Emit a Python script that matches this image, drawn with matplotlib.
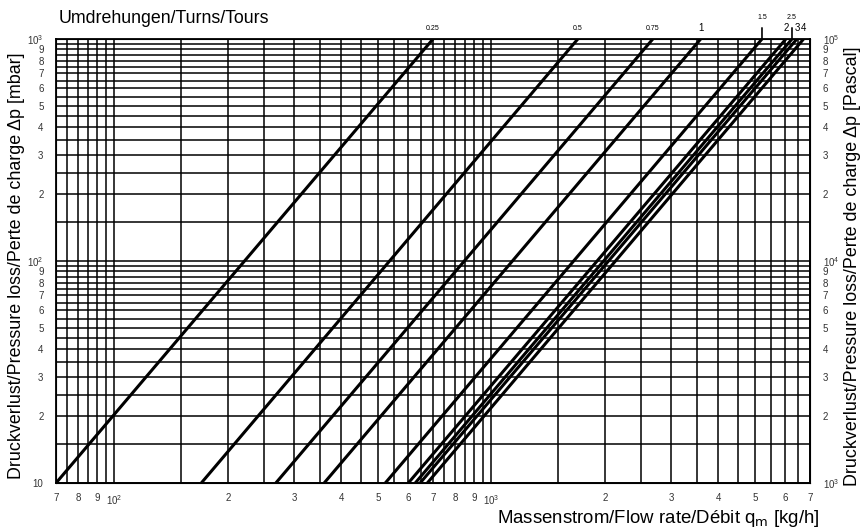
import numpy as np
import matplotlib
matplotlib.use("Agg")
import matplotlib.pyplot as plt
from matplotlib.ticker import FixedLocator, FuncFormatter

plt.rcParams['font.family'] = ['Liberation Sans', 'DejaVu Sans']
plt.rcParams['mathtext.default'] = 'regular'

# Umdrehungen (turns) and flow rate where each line crosses 10 mbar and 1000 mbar
turns = ["0.25", "0.5", "0.75", "1", "1.5", "2", "2.5", "3", "4"]
q_at_10mbar = [70, 170, 268, 360, 523, 602, 628, 647, 676]
q_at_1000mbar = [700, 1695, 2680, 3590, 5220, 6040, 6270, 6460, 6730]
dp_ends = [10, 1000]

# label style per turn value: small/large, with leader line or not
small_labels = ["0.25", "0.5", "0.75", "1.5", "2.5"]
leader_labels = ["1.5", "2.5"]

x_labelled = [70, 80, 90, 100, 200, 300, 400, 500, 600, 700, 800, 900,
              1000, 2000, 3000, 4000, 5000, 6000, 7000]
y_labelled = [10, 20, 30, 40, 50, 60, 70, 80, 90, 100, 200, 300, 400, 500,
              600, 700, 800, 900, 1000]

x_grid = list(np.arange(70, 100, 5)) + list(np.arange(100, 1000, 50)) + list(np.arange(1000, 7001, 500))
y_grid = list(np.arange(10, 100, 5)) + list(np.arange(100, 1001, 50))

fig = plt.figure(figsize=(8.62, 5.32), dpi=100)
ax = fig.add_axes([0.065, 0.0921, 0.8747, 0.8346])

for q0, q1 in zip(q_at_10mbar, q_at_1000mbar):
    ax.plot([q0, q1], dp_ends, color='black', lw=2.2, solid_capstyle='butt', zorder=3)

ax.set_xscale('log')
ax.set_yscale('log')
ax.set_xlim(70, 7000)
ax.set_ylim(10, 1000)


def fmt(v, pos):
    e = int(round(np.log10(v)))
    if abs(v - 10 ** e) < 1e-6 and e >= 2:
        return r'$10^{%d}$' % e
    if abs(v - 10) < 1e-6:
        return '10'
    return str(int(round(v / 10 ** np.floor(np.log10(v)))))


ax.xaxis.set_major_locator(FixedLocator(x_labelled))
ax.xaxis.set_minor_locator(FixedLocator(x_grid))
ax.yaxis.set_major_locator(FixedLocator(y_labelled))
ax.yaxis.set_minor_locator(FixedLocator(y_grid))
ax.xaxis.set_major_formatter(FuncFormatter(fmt))
ax.yaxis.set_major_formatter(FuncFormatter(fmt))
ax.xaxis.set_minor_formatter(FuncFormatter(lambda v, p: ''))
ax.yaxis.set_minor_formatter(FuncFormatter(lambda v, p: ''))
ax.tick_params(which='both', length=0, labelsize=7, colors='#333333')
ax.tick_params(axis='x', pad=7)
ax.tick_params(axis='y', pad=9)
ax.grid(which='both', color='black', lw=1.1)
for s in ax.spines.values():
    s.set_color('black')
    s.set_linewidth(1.3)

# right axis in Pascal
ax2 = ax.twinx()
ax2.set_yscale('log')
ax2.set_ylim(1000, 100000)
ax2.yaxis.set_major_locator(FixedLocator([v * 100 for v in y_labelled]))
ax2.yaxis.set_minor_locator(FixedLocator([]))
ax2.yaxis.set_major_formatter(FuncFormatter(fmt))
ax2.tick_params(which='both', length=0, labelsize=7, colors='#333333', pad=9)

# turn labels at the top end of each line
for t, q in zip(turns, q_at_1000mbar):
    small = t in small_labels
    fs = 5 if small else 7
    fam = ['Liberation Sans Narrow', 'Liberation Sans']
    if t in leader_labels:
        ax.annotate(t, xy=(q, 1.0), xycoords=('data', 'axes fraction'),
                    xytext=(0, 13), textcoords='offset points',
                    ha='center', va='bottom', fontsize=fs, family=fam,
                    arrowprops=dict(arrowstyle='-', color='black', lw=1.2,
                                    shrinkA=3, shrinkB=0))
    else:
        ax.annotate(t, xy=(q, 1.0), xycoords=('data', 'axes fraction'),
                    xytext=(0, 5 if small else 4), textcoords='offset points',
                    ha='center', va='bottom', fontsize=fs, family=fam)

fig.text(0.068, 0.966, 'Umdrehungen/Turns/Tours', fontsize=12.8, va='center', ha='left')
fig.text(0.019, 0.50, 'Druckverlust/Pressure loss/Perte de charge \u0394p [mbar]',
         rotation=90, fontsize=12.9, va='center', ha='center')
fig.text(0.989, 0.50, 'Druckverlust/Pressure loss/Perte de charge \u0394p [Pascal]',
         rotation=90, fontsize=12.9, va='center', ha='center')
fig.text(0.951, 0.026, r'Massenstrom/Flow rate/Débit q$_\mathrm{m}$ [kg/h]',
         fontsize=13.4, va='center', ha='right')

fig.savefig('out.png', dpi=100)
